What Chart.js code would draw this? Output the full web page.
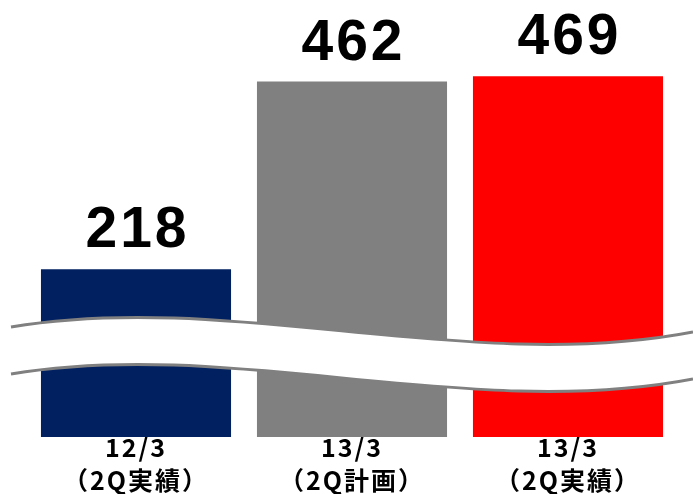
<!DOCTYPE html>
<html>
<head>
<meta charset="utf-8">
<script src="https://cdn.jsdelivr.net/npm/chart.js@4"></script>
<style>
  html, body { margin: 0; padding: 0; background: #fff; }
  #wrap { width: 693px; height: 494px; }
</style>
</head>
<body>
<div id="wrap"><canvas id="chart" width="693" height="494"></canvas></div>
<script>
// datos del gráfico
const categorias = [["12/3", "（2Q実績）"], ["13/3", "（2Q計画）"], ["13/3", "（2Q実績）"]];
const valores = [218, 462, 469];
const colores = ["#002060", "#808080", "#FF0000"];

// espaciado de letras para las etiquetas del eje x
const espaciado = {
  id: "espaciado",
  beforeDraw(chart) {
    if ("letterSpacing" in chart.ctx) chart.ctx.letterSpacing = "2px";
  },
  afterDraw(chart) {
    if ("letterSpacing" in chart.ctx) chart.ctx.letterSpacing = "0px";
  }
};

// etiquetas de valor encima de cada barra
const etiquetasValor = {
  id: "etiquetasValor",
  afterDatasetsDraw(chart) {
    const ctx = chart.ctx;
    const meta = chart.getDatasetMeta(0);
    ctx.save();
    ctx.fillStyle = "#000";
    ctx.font = "bold 57px 'Liberation Sans', Arial, sans-serif";
    ctx.textAlign = "center";
    ctx.textBaseline = "alphabetic";
    if ("letterSpacing" in ctx) ctx.letterSpacing = "3px";
    meta.data.forEach((bar, i) => {
      ctx.fillText(String(valores[i]), bar.x + 1.5, bar.y - 22);
    });
    ctx.restore();
  }
};

// banda ondulada que indica el corte del eje
const corteEje = {
  id: "corteEje",
  afterDatasetsDraw(chart) {
    const ctx = chart.ctx;
    const w = chart.width;
    const grosor = 47;
    const curva = (dy) => {
      ctx.moveTo(11, 327 + dy);
      ctx.bezierCurveTo(230, 290 + dy, 470, 375 + dy, w, 332 + dy);
    };
    ctx.save();
    // relleno blanco entre las dos curvas
    ctx.beginPath();
    ctx.moveTo(11, 327);
    ctx.bezierCurveTo(230, 290, 470, 375, w, 332);
    ctx.lineTo(w, 332 + grosor);
    ctx.bezierCurveTo(470, 375 + grosor, 230, 290 + grosor, 11, 327 + grosor);
    ctx.closePath();
    ctx.fillStyle = "#fff";
    ctx.fill();
    // bordes grises
    ctx.strokeStyle = "#808080";
    ctx.lineWidth = 3;
    ctx.beginPath();
    curva(0);
    ctx.stroke();
    ctx.beginPath();
    curva(grosor);
    ctx.stroke();
    ctx.restore();
  }
};

const ctx = document.getElementById("chart").getContext("2d");
new Chart(ctx, {
  type: "bar",
  data: {
    labels: categorias,
    datasets: [{
      data: valores,
      backgroundColor: colores,
      borderWidth: 0,
      barPercentage: 0.88,
      categoryPercentage: 1
    }]
  },
  options: {
    responsive: false,
    animation: false,
    layout: { padding: { left: 28, right: 17, top: 0, bottom: 0 } },
    plugins: {
      legend: { display: false },
      tooltip: { enabled: false }
    },
    scales: {
      x: {
        grid: { display: false, drawTicks: false },
        border: { display: false },
        afterFit(axis) { axis.height = 57; },
        ticks: {
          color: "#000",
          padding: -6,
          maxRotation: 0,
          font: { family: "'Noto Sans CJK JP', sans-serif", size: 25, weight: "bold", lineHeight: "33px" }
        }
      },
      y: {
        display: false,
        min: 0,
        max: 568
      }
    }
  },
  plugins: [espaciado, corteEje, etiquetasValor]
});
</script>
</body>
</html>
